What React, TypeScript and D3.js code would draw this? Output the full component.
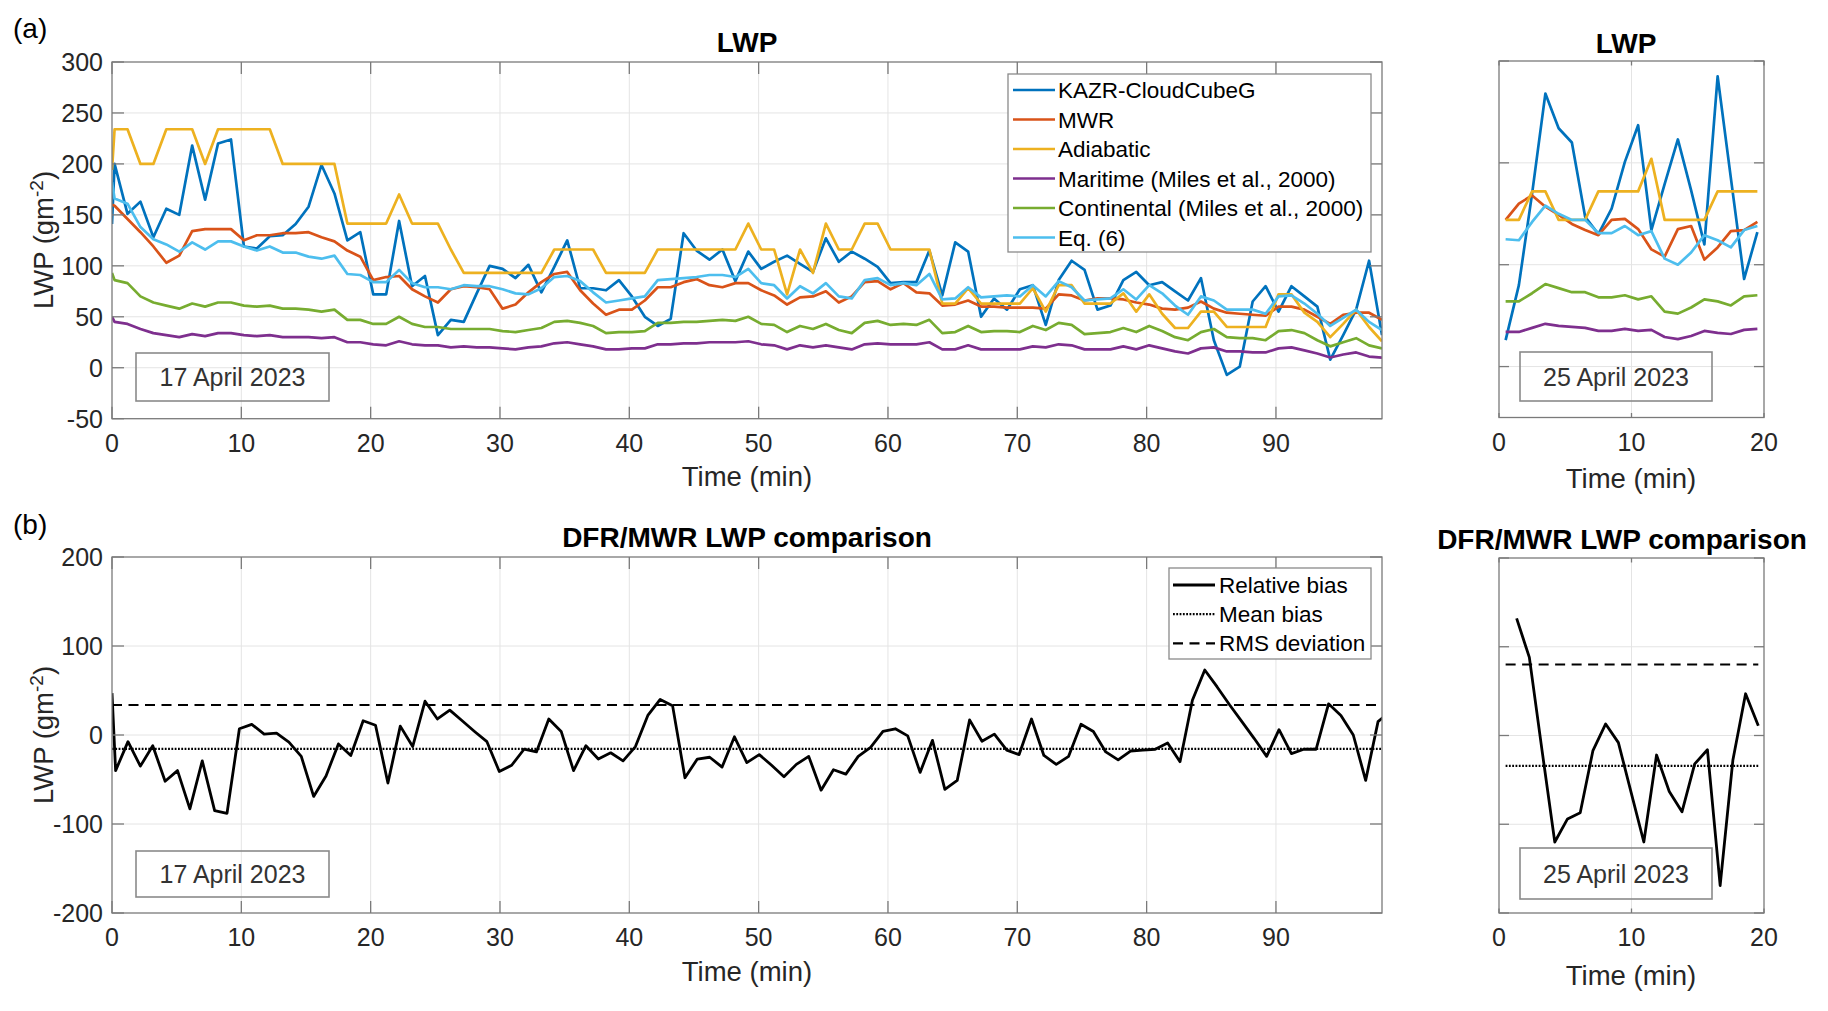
import React from 'react';
import * as d3 from 'd3';

const FONT = '"Liberation Sans", Arial, Helvetica, sans-serif';
const TXT = '#262626';

// ---------- (a) left panel: 17 April 2023 ----------
const timeA = [0, ...d3.range(0.2, 98.3, 1)];
const kazrA = [141,
  200,151,163,128,156,150,218,165,220,224,
  119,117,129,130,141,158,199,171,125,133,
  72,72,144,80,90,32,47,45,73,100,
  97,88,101,74,99,125,78,78,76,86,
  70,50,41,48,132,115,106,116,85,114,
  97,104,110,102,94,127,104,114,107,99,
  83,84,84,115,71,123,114,50,68,57,
  77,81,42,86,105,96,57,61,86,94,
  81,84,75,66,88,27,-7,1,65,80,
  55,80,70,60,8,32,57,105,32];
const mwrA = [160,
  159,146,133,119,103,110,134,136,136,136,
  125,130,130,132,132,133,128,124,115,109,
  86,89,90,77,70,64,77,80,79,77,
  58,62,74,84,92,94,76,63,52,57,
  57,66,79,79,84,87,81,79,83,83,
  76,71,62,69,70,75,64,70,84,85,
  77,83,74,73,61,62,66,60,60,59,
  59,59,58,72,71,66,68,68,67,64,
  62,58,57,59,65,58,54,53,52,51,
  60,60,57,50,43,52,54,54,47];
const adiabaticA = [194,
  234,234,200,200,234,234,234,200,234,234,
  234,234,234,200,200,200,200,200,141.5,141.5,
  141.5,141.5,170,141.5,141.5,141.5,116,93,93,93,
  93,93,93,93,116,116,116,116,93,93,
  93,93,116,116,116,116,116,116,116,141.5,
  116,116,72,116,93,141.5,116,116,141.5,141.5,
  116,116,116,116,63,63,78,63,63,63,
  63,78,55,81,81,63,63,63,73,55,
  72,53,39,39,55,55,40,40,40,40,
  72,72,54,45,30,43,57,40,26];
const maritimeA = [50,
  45,43,38,34,32,30,33,31,34,34,
  32,31,32,30,30,30,29,30,25,25,
  23,22,26,23,22,22,20,21,20,20,
  19,18,20,21,24,25,23,21,18,18,
  19,19,23,23,24,24,25,25,25,26,
  23,22,18,22,20,22,20,18,23,24,
  23,23,23,25,18,18,22,18,18,18,
  18,21,20,23,22,18,18,18,21,18,
  22,19,16,14,19,20,16,16,15,15,
  19,20,17,14,10,13,15,11,10];
const continentalA = [93,
  86,83,70,64,61,58,63,60,64,64,
  61,60,61,58,58,57,55,57,47,47,
  43,43,50,43,40,40,38,38,38,38,
  36,35,37,39,45,46,44,41,34,35,
  35,36,44,44,45,45,46,47,46,50,
  43,42,35,41,38,43,37,34,44,46,
  42,43,42,47,34,35,41,35,36,36,
  35,41,37,44,42,33,34,35,39,35,
  41,36,30,27,35,38,30,29,29,27,
  36,37,34,27,21,25,29,22,19];
const eq6A = [182,
  166,161,138,126,121,114,123,116,124,124,
  119,115,119,113,113,109,107,110,92,91,
  84,84,96,83,79,79,77,81,80,80,
  77,73,72,78,89,90,85,74,64,66,
  68,70,86,87,88,89,91,91,89,97,
  83,81,68,80,73,83,70,68,86,88,
  81,83,81,92,67,68,79,69,70,71,
  70,81,70,85,79,66,67,68,77,67,
  81,73,61,52,70,66,57,57,57,53,
  70,71,63,53,41,49,57,45,37];

const timeBiasA = [0, ...d3.range(0, 104).map(j => 0.28 + 0.957 * j)];
const biasA = [47,
  -40,-7.5,-35,-12,-52,-40,-83,-29,-85,-88,
  7,12,1,2,-8,-24,-69,-46,-10,-23,
  16,11,-54,10,-13,38,18,28,16,4,
  -7.5,-41,-34,-16,-19,18,4,-40,-12,-27,
  -20,-29,-13,22,40,33,-48,-27,-25,-36,
  -2,-31,-22,-34,-47,-33,-24,-62,-39,-44,
  -24,-14,4,7,-1,-42,-6,-61,-51,17,
  -7,1,-17,-22,18,-23,-33,-24,12,4,
  -19,-28,-18,-17,-16,-9,-30,39,73,54,
  34,15,-4,-24,6,-21,-16,-16,35,22,
  0,-51,15,27];
const meanBiasA = -15.7;
const rmsA = 33.7;

// ---------- right panel: 25 April 2023 ----------
const timeB = d3.range(0.5, 20, 1);
const kazrB = [26,80,170,268,234,220,147,130,155,201,237,134,179,223,173,120,285,185,86,132];
const mwrB = [144,160,168,157,149,140,134,129,144,145,135,115,108,135,138,105,117,133,134,142];
const adiabaticB = [144,144,172,172,144,144,144,172,172,172,172,204,144,144,144,144,172,172,172,172];
const maritimeB = [34,34,38,42,40,39,38,35,35,37,35,36,29,27,30,35,33,32,36,37];
const continentalB = [64,64,72,81,77,73,73,68,68,70,66,69,54,52,58,66,64,60,69,70];
const eq6B = [125,124,142,158,150,144,144,131,131,138,129,133,106,100,112,129,124,117,134,138];

const timeBiasB = d3.range(20).map(k => 1.33 + 0.96 * k);
const biasB = [132,88,-17,-120,-94,-87,-17,13,-8,-64,-120,-22,-63,-86,-32,-16,-169,-28,47,11];
const meanBiasB = -34.3;
const rmsB = 80;

const seriesNames = ['KAZR-CloudCubeG', 'MWR', 'Adiabatic', 'Maritime (Miles et al., 2000)', 'Continental (Miles et al., 2000)', 'Eq. (6)'];
const seriesColors = ['#0072BD', '#D95319', '#EDB120', '#7E2F8E', '#77AC30', '#4DBEEE'];
const biasNames = ['Relative bias', 'Mean bias', 'RMS deviation'];

const ticksA = d3.range(0, 91, 10);
const ticksB = [0, 10, 20];
const lwpTicks = d3.range(-50, 301, 50);
const lwpTicksRight = [0, 100, 200, 300];
const biasTicks = [-200, -100, 0, 100, 200];

type Line = { t: number[]; v: number[]; color: string; width: number; dash?: string };

type PanelProps = {
  id: string; x0: number; x1: number; y0: number; y1: number;
  xd: [number, number]; yd: [number, number];
  xt: number[]; yt: number[]; yLabels: boolean; xTickLen: number; yTickLen: number;
  lines: Line[];
};

function Panel(p: PanelProps) {
  const x = d3.scaleLinear().domain(p.xd).range([p.x0, p.x1]);
  const y = d3.scaleLinear().domain(p.yd).range([p.y1, p.y0]);
  const gen = d3.line<[number, number]>().x(d => x(d[0])).y(d => y(d[1]));
  const boxC = '#7a7a7a';
  return (
    <g>
      <defs>
        <clipPath id={p.id}>
          <rect x={p.x0} y={p.y0} width={p.x1 - p.x0} height={p.y1 - p.y0} />
        </clipPath>
      </defs>
      <rect x={p.x0} y={p.y0} width={p.x1 - p.x0} height={p.y1 - p.y0} fill="#fff" />
      {p.xt.filter(t => t > p.xd[0] && t < p.xd[1]).map(t => (
        <line key={'gx' + t} x1={x(t)} x2={x(t)} y1={p.y0} y2={p.y1} stroke="#e4e4e4" strokeWidth={1} />
      ))}
      {p.yt.filter(v => v > p.yd[0] && v < p.yd[1]).map(v => (
        <line key={'gy' + v} x1={p.x0} x2={p.x1} y1={y(v)} y2={y(v)} stroke="#e4e4e4" strokeWidth={1} />
      ))}
      <g clipPath={`url(#${p.id})`}>
        {p.lines.map((l, i) => (
          <path key={i} d={gen(l.t.map((t, k) => [t, l.v[k]] as [number, number])) || ''}
            fill="none" stroke={l.color} strokeWidth={l.width} strokeDasharray={l.dash}
            strokeLinejoin="round" />
        ))}
      </g>
      <rect x={p.x0} y={p.y0} width={p.x1 - p.x0} height={p.y1 - p.y0} fill="none" stroke={boxC} strokeWidth={1.3} />
      {p.xt.map(t => (
        <g key={'tx' + t}>
          <line x1={x(t)} x2={x(t)} y1={p.y1} y2={p.y1 - p.xTickLen} stroke={boxC} strokeWidth={1.3} />
          <line x1={x(t)} x2={x(t)} y1={p.y0} y2={p.y0 + p.xTickLen} stroke={boxC} strokeWidth={1.3} />
          <text x={x(t)} y={p.y1 + 33} textAnchor="middle" fontSize={25} fill={TXT}>{t}</text>
        </g>
      ))}
      {p.yt.map(v => (
        <g key={'ty' + v}>
          <line x1={p.x0} x2={p.x0 + p.yTickLen} y1={y(v)} y2={y(v)} stroke={boxC} strokeWidth={1.3} />
          <line x1={p.x1} x2={p.x1 - p.yTickLen} y1={y(v)} y2={y(v)} stroke={boxC} strokeWidth={1.3} />
          {p.yLabels && (
            <text x={p.x0 - 9} y={y(v) + 9} textAnchor="end" fontSize={25} fill={TXT}>{v}</text>
          )}
        </g>
      ))}
    </g>
  );
}

function DateBox({ x0, y0, w, h, label }: { x0: number; y0: number; w: number; h: number; label: string }) {
  return (
    <g>
      <rect x={x0} y={y0} width={w} height={h} fill="none" stroke="#8a8a8a" strokeWidth={1.6} />
      <text x={x0 + w / 2} y={y0 + h / 2 + 9} textAnchor="middle" fontSize={25} fill="#333">{label}</text>
    </g>
  );
}

export default function App() {
  const lwpA = [kazrA, mwrA, adiabaticA, maritimeA, continentalA, eq6A];
  const lwpB = [kazrB, mwrB, adiabaticB, maritimeB, continentalB, eq6B];
  const LW = 2.7;
  const linesA: Line[] = lwpA.map((v, i) => ({ t: timeA, v, color: seriesColors[i], width: LW }));
  const linesB: Line[] = lwpB.map((v, i) => ({ t: timeB, v, color: seriesColors[i], width: LW }));
  const endA = timeA[timeA.length - 1];
  const biasLinesA: Line[] = [
    { t: timeBiasA, v: biasA, color: '#000', width: 2.8 },
    { t: [0, endA], v: [meanBiasA, meanBiasA], color: '#000', width: 2.3, dash: '1.8,1.5' },
    { t: [0, endA], v: [rmsA, rmsA], color: '#000', width: 2.2, dash: '10,6.5' },
  ];
  const t0B = timeB[0], t1B = timeBiasB[timeBiasB.length - 1];
  const biasLinesB: Line[] = [
    { t: timeBiasB, v: biasB, color: '#000', width: 2.8 },
    { t: [t0B, t1B], v: [meanBiasB, meanBiasB], color: '#000', width: 2.3, dash: '1.8,1.5' },
    { t: [t0B, t1B], v: [rmsB, rmsB], color: '#000', width: 2.2, dash: '10,6.5' },
  ];
  const biasDash = [undefined, '1.8,1.5', '10,6.5'];

  const yLabel = (cx: number, cy: number) => (
    <text transform={`translate(${cx},${cy}) rotate(-90)`} textAnchor="middle" fontSize={27.5} fill={TXT}>
      LWP (gm<tspan dy={-10} fontSize={19}>-2</tspan><tspan dy={10}>)</tspan>
    </text>
  );

  return (
    <svg width={1828} height={1011} style={{ position: 'absolute', left: 0, top: 0, background: '#fff' }}
      fontFamily={FONT}>
      <rect x={0} y={0} width={1828} height={1011} fill="#fff" />
      <text x={13} y={38} fontSize={28} fill="#000">(a)</text>
      <text x={13} y={534} fontSize={28} fill="#000">(b)</text>

      {/* (a) left */}
      <Panel id="cA" x0={112} x1={1382} y0={62} y1={418.7} xd={[0, endA]} yd={[-50, 300]}
        xt={ticksA} yt={lwpTicks} yLabels={true} xTickLen={12} yTickLen={12} lines={linesA} />
      <text x={747} y={52} textAnchor="middle" fontSize={28} fontWeight="bold" fill="#000">LWP</text>
      <text x={747} y={486} textAnchor="middle" fontSize={27.5} fill={TXT}>Time (min)</text>
      {yLabel(53, 240)}
      <DateBox x0={136} y0={353} w={193} h={48} label="17 April 2023" />
      <g>
        <rect x={1008} y={74} width={363} height={178} fill="#fff" stroke="#8a8a8a" strokeWidth={1.3} />
        {seriesNames.map((n, i) => (
          <g key={n}>
            <line x1={1013} x2={1055} y1={90 + i * 29.5} y2={90 + i * 29.5} stroke={seriesColors[i]} strokeWidth={LW} />
            <text x={1058} y={90 + i * 29.5 + 8} fontSize={22.5} fill="#000">{n}</text>
          </g>
        ))}
      </g>

      {/* (a) right */}
      <Panel id="cB" x0={1499} x1={1764} y0={61} y1={417.5} xd={[0, 20]} yd={[-50, 300]}
        xt={ticksB} yt={lwpTicksRight} yLabels={false} xTickLen={4.5} yTickLen={10} lines={linesB} />
      <text x={1626} y={53} textAnchor="middle" fontSize={28} fontWeight="bold" fill="#000">LWP</text>
      <text x={1631} y={488} textAnchor="middle" fontSize={27.5} fill={TXT}>Time (min)</text>
      <DateBox x0={1520} y0={352} w={192} h={49} label="25 April 2023" />

      {/* (b) left */}
      <Panel id="cC" x0={112} x1={1382} y0={557} y1={913} xd={[0, endA]} yd={[-200, 200]}
        xt={ticksA} yt={biasTicks} yLabels={true} xTickLen={12} yTickLen={12} lines={biasLinesA} />
      <text x={747} y={547} textAnchor="middle" fontSize={28} fontWeight="bold" fill="#000">DFR/MWR LWP comparison</text>
      <text x={747} y={981} textAnchor="middle" fontSize={27.5} fill={TXT}>Time (min)</text>
      {yLabel(53, 735)}
      <DateBox x0={136} y0={851} w={193} h={46} label="17 April 2023" />
      <g>
        <rect x={1169} y={568} width={202} height={91} fill="#fff" stroke="#8a8a8a" strokeWidth={1.3} />
        {biasNames.map((n, i) => (
          <g key={n}>
            <line x1={1173} x2={1215} y1={585 + i * 29.2} y2={585 + i * 29.2} stroke="#000"
              strokeWidth={i === 0 ? 2.8 : 2.2} strokeDasharray={biasDash[i]} />
            <text x={1219} y={585 + i * 29.2 + 8} fontSize={22.5} fill="#000">{n}</text>
          </g>
        ))}
      </g>

      {/* (b) right */}
      <Panel id="cD" x0={1499} x1={1764} y0={558} y1={913} xd={[0, 20]} yd={[-200, 200]}
        xt={ticksB} yt={biasTicks} yLabels={false} xTickLen={4.5} yTickLen={10} lines={biasLinesB} />
      <text x={1622} y={549} textAnchor="middle" fontSize={28} fontWeight="bold" fill="#000">DFR/MWR LWP comparison</text>
      <text x={1631} y={985} textAnchor="middle" fontSize={27.5} fill={TXT}>Time (min)</text>
      <DateBox x0={1520} y0={848} w={192} h={51} label="25 April 2023" />
    </svg>
  );
}
